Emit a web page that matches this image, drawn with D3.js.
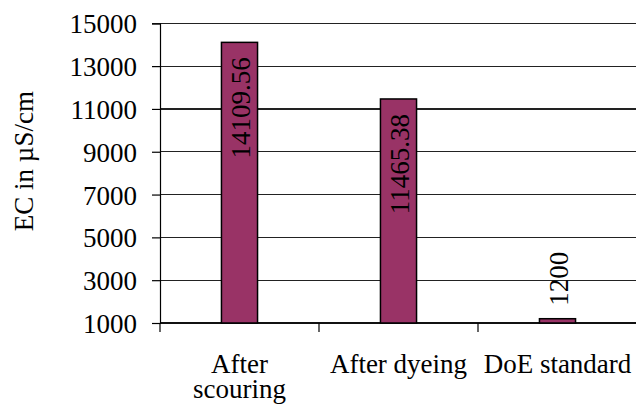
<!DOCTYPE html>
<html>
<head>
<meta charset="utf-8">
<script src="https://cdn.jsdelivr.net/npm/d3@7/dist/d3.min.js"></script>
</head>
<body style="margin:0">
<svg id="chart" width="636" height="409" style="display:block;background:#fff"></svg>
<script>
const categories = [["After", "scouring"], ["After dyeing"], ["DoE standard"]];
const values = [14109.56, 11465.38, 1200];
const valueLabels = ["14109.56", "11465.38", "1200"];
const yTicks = [1000, 3000, 5000, 7000, 9000, 11000, 13000, 15000];
const yTitle = "EC in µS/cm";

const svg = d3.select("#chart");
const W = 636;
const mLeft = 160, mRight = 637, mTop = 23.3, mBottom = 323;
const fs = 27;

function setFont(sel) {
  sel.style("font-family", '"Times New Roman"').style("font-size", fs + "px");
}

const x = d3.scaleBand().domain(d3.range(categories.length)).range([mLeft, mRight]).padding(0);
const y = d3.scaleLinear().domain([1000, 15000]).range([mBottom, mTop]);

// gridlines
svg.append("g").selectAll("line").data(yTicks).join("line")
  .attr("x1", mLeft).attr("x2", W)
  .attr("y1", d => y(d)).attr("y2", d => y(d))
  .attr("stroke", "#222").attr("stroke-width", 1.2).attr("shape-rendering", "crispEdges");

// y axis
const yAxis = svg.append("g").attr("transform", `translate(${mLeft},0)`)
  .call(d3.axisLeft(y).tickValues(yTicks).tickSize(8).tickPadding(15).tickFormat(d3.format("d")));
yAxis.attr("font-family", null).attr("font-size", null);
yAxis.select(".domain").attr("stroke", "#000").attr("stroke-width", 1.2);
yAxis.selectAll(".tick line").attr("stroke", "#000").attr("stroke-width", 1.2);
yAxis.selectAll(".tick text").call(setFont).attr("fill", "#000").attr("dy", "0.35em");

// x axis baseline and category tick marks
svg.append("line").attr("x1", mLeft).attr("x2", W).attr("y1", mBottom).attr("y2", mBottom)
  .attr("stroke", "#000").attr("stroke-width", 1.2);
const boundaries = d3.range(categories.length + 1).map(i => i < categories.length ? x(i) : x(categories.length - 1) + x.bandwidth());
svg.append("g").selectAll("line").data(boundaries).join("line")
  .attr("x1", d => d).attr("x2", d => d).attr("y1", mBottom).attr("y2", mBottom + 9)
  .attr("stroke", "#000").attr("stroke-width", 1.2);

// bars
const bw = x.bandwidth() * 0.227;
svg.append("g").selectAll("rect").data(values).join("rect")
  .attr("x", (d, i) => x(i) + x.bandwidth() / 2 - bw / 2)
  .attr("y", d => y(d))
  .attr("width", bw)
  .attr("height", d => mBottom - y(d))
  .attr("fill", "#993366").attr("stroke", "#000").attr("stroke-width", 1.5);

// value labels (rotated)
svg.append("g").selectAll("text").data(values).join("text")
  .attr("transform", (d, i) => {
    const cx = x(i) + x.bandwidth() / 2;
    const inside = (mBottom - y(d)) > 150;
    const py = inside ? y(d) + 15 : y(d) - 13;
    return `translate(${cx + 1},${py}) rotate(-90)`;
  })
  .attr("text-anchor", d => (mBottom - y(d)) > 150 ? "end" : "start")
  .attr("dy", "0.35em")
  .call(setFont)
  .text((d, i) => valueLabels[i]);

// category labels
const cl = svg.append("g").selectAll("text").data(categories).join("text")
  .attr("x", (d, i) => x(i) + x.bandwidth() / 2)
  .attr("y", 373)
  .attr("text-anchor", "middle")
  .call(setFont);
cl.selectAll("tspan").data(d => d).join("tspan")
  .attr("x", function () { return d3.select(this.parentNode).attr("x"); })
  .attr("dy", (d, j) => j === 0 ? 0 : 25)
  .text(d => d);

// y title
svg.append("text")
  .attr("transform", `translate(33,${(mTop + mBottom) / 2 - 12}) rotate(-90)`)
  .attr("text-anchor", "middle")
  .call(setFont)
  .text(yTitle);
</script>
</body>
</html>
